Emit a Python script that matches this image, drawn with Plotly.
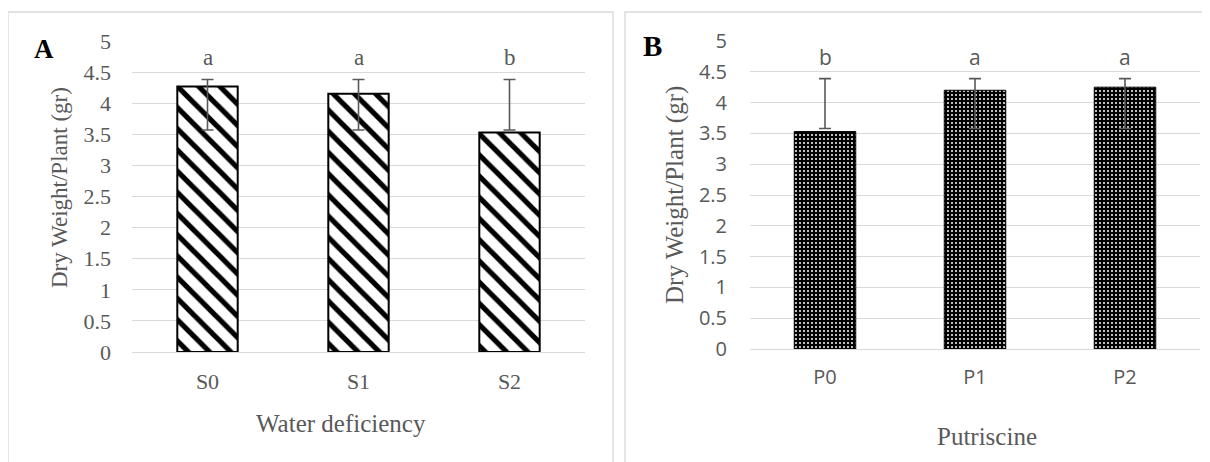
import plotly.graph_objects as go

# ---- data ----
cats_a = ["S0", "S1", "S2"]
vals_a = [4.27, 4.15, 3.53]
err_lo_a = [3.57, 3.57, 3.57]
err_hi_a = [4.38, 4.38, 4.38]
sig_a = ["a", "a", "b"]

cats_b = ["P0", "P1", "P2"]
vals_b = [3.53, 4.20, 4.25]
err_lo_b = [3.58, 3.58, 3.58]
err_hi_b = [4.39, 4.39, 4.39]
sig_b = ["b", "a", "a"]

yticks = [0, 0.5, 1, 1.5, 2, 2.5, 3, 3.5, 4, 4.5, 5]
ytick_text = ["0", "0.5", "1", "1.5", "2", "2.5", "3", "3.5", "4", "4.5", "5"]

W, H = 1210, 462
OFF = 8  # page offset of the plot div
GRAY = "#595959"
GRID = "#d9d9d9"
SERIF = "Liberation Serif, Times New Roman, serif"
SANS = "Open Sans, Noto Sans, sans-serif"


def px(x):
    return (x - OFF) / W


def py(y):
    return (H - (y - OFF)) / H


fig = go.Figure()

# Panel A bars
fig.add_trace(go.Bar(
    x=cats_a, y=vals_a, xaxis="x", yaxis="y", width=0.4,
    marker=dict(color="white", line=dict(color="black", width=2),
                pattern=dict(shape="\\", fgcolor="black", bgcolor="white",
                             size=15, solidity=0.35, fillmode="replace")),
    showlegend=False, hoverinfo="skip"))
mid_a = [(l + h) / 2 for l, h in zip(err_lo_a, err_hi_a)]
half_a = [(h - l) / 2 for l, h in zip(err_lo_a, err_hi_a)]
fig.add_trace(go.Scatter(
    x=cats_a, y=mid_a, xaxis="x", yaxis="y", mode="markers",
    marker=dict(size=1, color="rgba(0,0,0,0)"),
    error_y=dict(type="data", array=half_a, symmetric=True, color=GRAY,
                 thickness=1.6, width=6),
    showlegend=False, hoverinfo="skip"))

# Panel B bars
fig.add_trace(go.Bar(
    x=cats_b, y=vals_b, xaxis="x2", yaxis="y2", width=0.41,
    marker=dict(color="black", line=dict(color="black", width=1),
                pattern=dict(shape=".", fgcolor="white", bgcolor="black",
                             size=4, solidity=0.2, fillmode="replace")),
    showlegend=False, hoverinfo="skip"))
mid_b = [(l + h) / 2 for l, h in zip(err_lo_b, err_hi_b)]
half_b = [(h - l) / 2 for l, h in zip(err_lo_b, err_hi_b)]
fig.add_trace(go.Scatter(
    x=cats_b, y=mid_b, xaxis="x2", yaxis="y2", mode="markers",
    marker=dict(size=1, color="rgba(0,0,0,0)"),
    error_y=dict(type="data", array=half_b, symmetric=True, color=GRAY,
                 thickness=1.6, width=6),
    showlegend=False, hoverinfo="skip"))

yax_common = dict(range=[0, 5], tickvals=yticks, ticktext=ytick_text,
                  showgrid=True, gridcolor=GRID, gridwidth=1.3,
                  zeroline=True, zerolinecolor=GRID, zerolinewidth=1.3,
                  showline=False, ticks="", fixedrange=True, automargin=False)

fig.update_layout(
    width=W, height=H,
    margin=dict(l=0, r=0, t=0, b=0, pad=0, autoexpand=False),
    paper_bgcolor="white", plot_bgcolor="white",
    xaxis=dict(domain=[px(132), px(585)], anchor="y", showgrid=False,
               zeroline=False, showline=False, ticks="", automargin=False,
               tickfont=dict(family=SERIF, size=22, color=GRAY),
               ticklabelstandoff=14),
    yaxis=dict(domain=[py(352), py(41)], anchor="x",
               tickfont=dict(family=SERIF, size=22, color=GRAY),
               ticklabelstandoff=20, **yax_common),
    xaxis2=dict(domain=[px(750), px(1200)], anchor="y2", showgrid=False,
                zeroline=False, showline=False, ticks="", automargin=False,
                tickfont=dict(family=SANS, size=20, color=GRAY),
                ticklabelstandoff=14),
    yaxis2=dict(domain=[py(349), py(41)], anchor="x2",
                tickfont=dict(family=SANS, size=20, color=GRAY),
                ticklabelstandoff=22, **yax_common),
)

annotations = []
# significance letters
for c, s in zip(cats_a, sig_a):
    annotations.append(dict(x=c, y=4.74, xref="x", yref="y", text=s,
                            showarrow=False, yanchor="middle",
                            font=dict(family=SERIF, size=23, color=GRAY)))
for c, s in zip(cats_b, sig_b):
    annotations.append(dict(x=c, y=4.74, xref="x2", yref="y2", text=s,
                            showarrow=False, yanchor="middle",
                            font=dict(family=SANS, size=21, color=GRAY)))

annotations += [
    dict(x=px(44), y=py(49), xref="paper", yref="paper", text="<b>A</b>",
         showarrow=False, xanchor="center", yanchor="middle",
         font=dict(family=SERIF, size=27, color="black")),
    dict(x=px(652), y=py(46), xref="paper", yref="paper", text="<b>B</b>",
         showarrow=False, xanchor="center", yanchor="middle",
         font=dict(family=SERIF, size=29, color="black")),
    dict(x=px(59), y=py(187), xref="paper", yref="paper",
         text="Dry Weight/Plant (gr)", textangle=-90, showarrow=False,
         xanchor="center", yanchor="middle",
         font=dict(family=SERIF, size=23, color=GRAY)),
    dict(x=px(675), y=py(195), xref="paper", yref="paper",
         text="Dry Weight/Plant (gr)", textangle=-90, showarrow=False,
         xanchor="center", yanchor="middle",
         font=dict(family=SERIF, size=25, color=GRAY)),
    dict(x=px(341), y=py(423), xref="paper", yref="paper",
         text="Water deficiency", showarrow=False,
         xanchor="center", yanchor="middle",
         font=dict(family=SERIF, size=25, color=GRAY)),
    dict(x=px(987), y=py(436), xref="paper", yref="paper",
         text="Putriscine", showarrow=False,
         xanchor="center", yanchor="middle",
         font=dict(family=SERIF, size=25, color=GRAY)),
]
fig.update_layout(annotations=annotations)

# panel borders
fig.update_layout(shapes=[
    dict(type="rect", xref="paper", yref="paper",
         x0=px(8), x1=px(613), y0=py(490), y1=py(12),
         line=dict(color=GRID, width=1.3), fillcolor="rgba(0,0,0,0)", layer="below"),
    dict(type="rect", xref="paper", yref="paper",
         x0=px(625), x1=px(1240), y0=py(490), y1=py(12),
         line=dict(color=GRID, width=1.3), fillcolor="rgba(0,0,0,0)", layer="below"),
])

fig.write_html("out.html")
